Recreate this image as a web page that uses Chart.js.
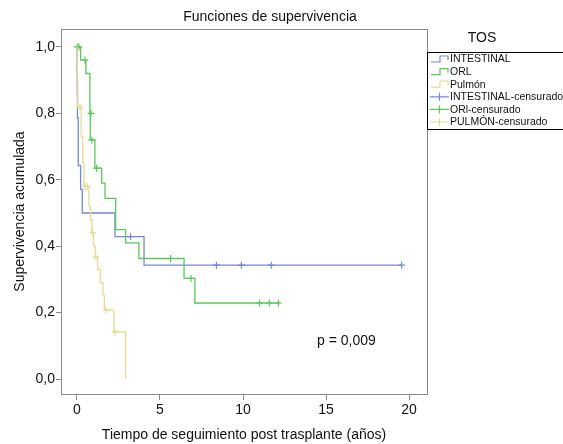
<!DOCTYPE html>
<html>
<head>
<meta charset="utf-8">
<script src="https://cdn.jsdelivr.net/npm/chart.js@4"></script>
<style>
  html, body { margin: 0; padding: 0; background: #fff; }
  #wrap { width: 563px; height: 444px; position: relative; }
</style>
</head>
<body>
<div id="wrap"><canvas id="km"></canvas></div>
<script>
// Kaplan-Meier curves (time in years, cumulative survival)
const intTime = [0, 0.01, 0.02, 0.03, 0.08, 0.22, 0.32, 2.29, 4.04, 19.55];
const intSurv = [1.0, 0.929, 0.857, 0.786, 0.643, 0.571, 0.5, 0.429, 0.343, 0.343];
const intCensT = [3.23, 8.4, 9.9, 11.7, 19.55];
const intCensS = [0.429, 0.343, 0.343, 0.343, 0.343];

const orlTime = [0, 0.22, 0.54, 0.78, 0.80, 1.08, 1.49, 1.69, 2.33, 2.93, 3.73, 6.45, 7.1, 12.2];
const orlSurv = [1.0, 0.96, 0.92, 0.80, 0.72, 0.635, 0.59, 0.544, 0.45, 0.41, 0.363, 0.303, 0.229, 0.229];
const orlCensT = [0.02, 0.12, 0.48, 0.85, 0.9, 1.18, 5.64, 6.87, 11.0, 11.58, 12.13];
const orlCensS = [1.0, 1.0, 0.96, 0.80, 0.72, 0.635, 0.363, 0.303, 0.229, 0.229, 0.229];

const pulTime = [0, 0.02, 0.05, 0.25, 0.35, 0.42, 0.72, 0.82, 0.9, 1.0, 1.1, 1.25, 1.4, 1.57, 1.65, 2.23, 2.93];
const pulSurv = [1.0, 0.909, 0.818, 0.73, 0.65, 0.58, 0.52, 0.48, 0.44, 0.40, 0.367, 0.33, 0.29, 0.253, 0.208, 0.142, 0];
const pulCensT = [0.18, 0.5, 0.62, 0.95, 1.14, 1.75, 2.3];
const pulCensS = [0.818, 0.58, 0.58, 0.44, 0.367, 0.208, 0.142];

const xTicks = [0, 5, 10, 15, 20];
const yTicks = [0, 0.2, 0.4, 0.6, 0.8, 1.0];

const legendLabels = ['INTESTINAL', 'ORL', 'Pulmón', 'INTESTINAL-censurado', 'ORl-censurado', 'PULMÓN-censurado'];
const legendTitle = 'TOS';
const chartTitle = 'Funciones de supervivencia';
const pText = 'p = 0,009';

const BLUE = 'rgb(118,135,214)';
const GREEN = 'rgb(92,198,92)';
const YELLOW = 'rgb(228,220,150)';
const FONT = '"Liberation Sans", Arial, sans-serif';

const pts = (xs, ys) => xs.map((x, i) => ({ x: x, y: ys[i] }));

function curve(label, xs, ys, color, order) {
  return {
    label: label, data: pts(xs, ys), borderColor: color, borderWidth: 1.3,
    showLine: true, stepped: 'before', pointRadius: 0, fill: false, order: order
  };
}
function censor(label, xs, ys, color, order) {
  return {
    label: label, data: pts(xs, ys), borderColor: color, backgroundColor: color,
    showLine: false, pointStyle: 'cross', pointRadius: 3.5, pointBorderWidth: 1.2, order: order
  };
}

const datasets = [
  curve(legendLabels[0], intTime, intSurv, BLUE, 3),
  curve(legendLabels[1], orlTime, orlSurv, GREEN, 2),
  curve(legendLabels[2], pulTime, pulSurv, YELLOW, 1),
  censor(legendLabels[3], intCensT, intCensS, BLUE, 3),
  censor(legendLabels[4], orlCensT, orlCensS, GREEN, 2),
  censor(legendLabels[5], pulCensT, pulCensS, YELLOW, 1)
];

// frame, title, legend box and p-value
const extras = {
  id: 'extras',
  afterDraw(chart) {
    const ctx = chart.ctx;
    const a = chart.chartArea;
    ctx.save();
    ctx.strokeStyle = '#8a8a8a';
    ctx.lineWidth = 1;
    ctx.strokeRect(Math.round(a.left) + 0.5, Math.round(a.top) + 0.5,
      Math.round(a.right - a.left), Math.round(a.bottom - a.top));

    ctx.fillStyle = '#111';
    ctx.textBaseline = 'middle';
    ctx.textAlign = 'center';
    ctx.font = '14px ' + FONT;
    ctx.fillText(chartTitle, 270, 17);
    ctx.fillText(legendTitle, 482, 38);

    ctx.textAlign = 'left';
    ctx.fillText(pText, 317, 341);

    // legend box
    ctx.strokeStyle = '#000';
    ctx.strokeRect(427.5, 52.5, 150, 77);
    ctx.font = '10.5px ' + FONT;
    chart.data.datasets.forEach((ds, i) => {
      const y = 59 + i * 12.6;
      ctx.strokeStyle = ds.borderColor;
      ctx.lineWidth = 1.2;
      ctx.beginPath();
      if (i < 3) {
        ctx.moveTo(431, y + 3); ctx.lineTo(440, y + 3); ctx.lineTo(440, y - 3);
        ctx.lineTo(448, y - 3); ctx.lineTo(448, y + 1);
      } else {
        ctx.moveTo(430, y); ctx.lineTo(449, y);
        ctx.moveTo(439.5, y - 4); ctx.lineTo(439.5, y + 4);
      }
      ctx.stroke();
      ctx.fillStyle = '#111';
      ctx.fillText(ds.label, 450, y + 0.5);
    });
    ctx.restore();
  }
};

const ctx = document.getElementById('km').getContext('2d');
new Chart(ctx, {
  type: 'scatter',
  data: { datasets: datasets },
  plugins: [extras],
  options: {
    responsive: true,
    maintainAspectRatio: false,
    animation: false,
    layout: { padding: { top: 29, right: 136, left: 0, bottom: 0 } },
    plugins: { legend: { display: false }, tooltip: { enabled: false } },
    scales: {
      x: {
        type: 'linear', min: -0.96, max: 21.08,
        afterBuildTicks: s => { s.ticks = xTicks.map(v => ({ value: v })); },
        afterFit: s => { s.height = 50; },
        grid: { drawOnChartArea: false, drawTicks: true, tickLength: 6, color: '#8a8a8a' },
        border: { display: false },
        ticks: { font: { size: 14, family: FONT }, color: '#111', padding: 2, maxRotation: 0 },
        title: { display: true, text: 'Tiempo de seguimiento post trasplante (años)',
          font: { size: 14, family: FONT }, color: '#111', padding: { top: 0, bottom: 0 } }
      },
      y: {
        type: 'linear', min: -0.045, max: 1.054,
        afterBuildTicks: s => { s.ticks = yTicks.map(v => ({ value: v })); },
        afterFit: s => { s.width = 61; },
        grid: { drawOnChartArea: false, drawTicks: true, tickLength: 5, color: '#8a8a8a' },
        border: { display: false },
        ticks: { font: { size: 14, family: FONT }, color: '#111', padding: 1,
          callback: v => v.toFixed(1).replace('.', ',') },
        title: { display: true, text: 'Supervivencia acumulada',
          font: { size: 14, family: FONT }, color: '#111', padding: { top: 12, bottom: 0 } }
      }
    }
  }
});
</script>
</body>
</html>
